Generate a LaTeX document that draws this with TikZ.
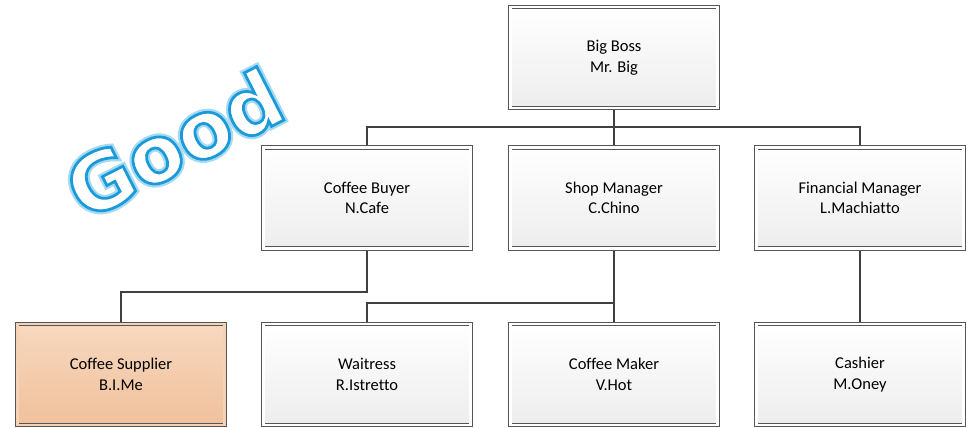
\documentclass[tikz,border=0pt]{standalone}
\usepackage{fontspec}
\setmainfont{Carlito}[Ligatures={NoCommon}]
\newfontfamily\goodfont{DejaVu Sans Bold}[FakeBold=3.5]
\newfontfamily\goodglowfont{DejaVu Sans Bold}[FakeBold=9]
\usetikzlibrary{shadows}
\pgfdeclarelayer{background}
\pgfsetlayers{background,main}
\definecolor{edgegray}{HTML}{555555}
\definecolor{linegray}{HTML}{404040}
\definecolor{boxbot}{HTML}{EDEDED}
\definecolor{orgtop}{HTML}{F7D8BF}
\definecolor{orgbot}{HTML}{F0C19C}
\definecolor{orggap}{HTML}{F5D2B6}
\definecolor{goodblue}{HTML}{1A9AD8}
\definecolor{glowblue}{HTML}{A6DAF3}
\tikzset{
  orgbox/.style={draw=edgegray, line width=0.9pt, double=white, double distance=2.6pt,
    minimum width=207.5pt, minimum height=101pt, inner sep=0pt, align=center,
    top color=white, bottom color=boxbot,
    font=\fontsize{16.5}{20.5}\selectfont,
    drop shadow={shadow xshift=1.8pt, shadow yshift=-1.8pt, opacity=0.25, fill=black!50}},
  hibox/.style={orgbox, double=orggap, top color=orgtop, bottom color=orgbot},
  conn/.style={draw=linegray, line width=1.7pt},
  goodtext/.style={rotate=27, inner sep=0pt}
}
\begin{document}
\begin{tikzpicture}[x=1pt,y=-1pt]
\useasboundingbox (0,0) rectangle (969,428);
% boxes
\node[orgbox] (bigboss) at (614,57.5) {Big Boss\\Mr. Big};
\node[orgbox] (buyer) at (367,198) {Coffee Buyer\\N.Cafe};
\node[orgbox] (shopmgr) at (614,198) {Shop Manager\\C.Chino};
\node[orgbox] (finmgr) at (860,198) {Financial Manager\\L.Machiatto};
\node[hibox] (supplier) at (121,374.5) {Coffee Supplier\\B.I.Me};
\node[orgbox] (waitress) at (367,374.5) {Waitress\\R.Istretto};
\node[orgbox] (maker) at (614,374.5) {Coffee Maker\\V.Hot};
\node[orgbox] (cashier) at (860,374.5) {Cashier\\M.Oney};
% bus coordinates
\coordinate (busA) at (614,127);
\coordinate (busB) at (367,292);
\coordinate (busC) at (614,303);
% connectors
\begin{pgfonlayer}{background}
\draw[conn] (bigboss.south) -- (busA);
\draw[conn] (buyer.north) |- (busA) -| (finmgr.north);
\draw[conn] (busA) -- (shopmgr.north);
\draw[conn] (buyer.south) |- (busB) -| (supplier.north);
\draw[conn] (shopmgr.south) -- (busC) -- (maker.north);
\draw[conn] (waitress.north) |- (busC);
\draw[conn] (finmgr.south) -- (cashier.north);
\end{pgfonlayer}
% Good
\node[goodtext, font=\goodglowfont\fontsize{79}{83}\selectfont, text=glowblue] (goodglow) at (174,143) {Good};
\node[goodtext, font=\goodfont\fontsize{79}{83}\selectfont] (good) at (174,143)
  {\color{white}\special{pdf:literal direct 0.102 0.604 0.847 RG}Good};
\end{tikzpicture}
\end{document}
